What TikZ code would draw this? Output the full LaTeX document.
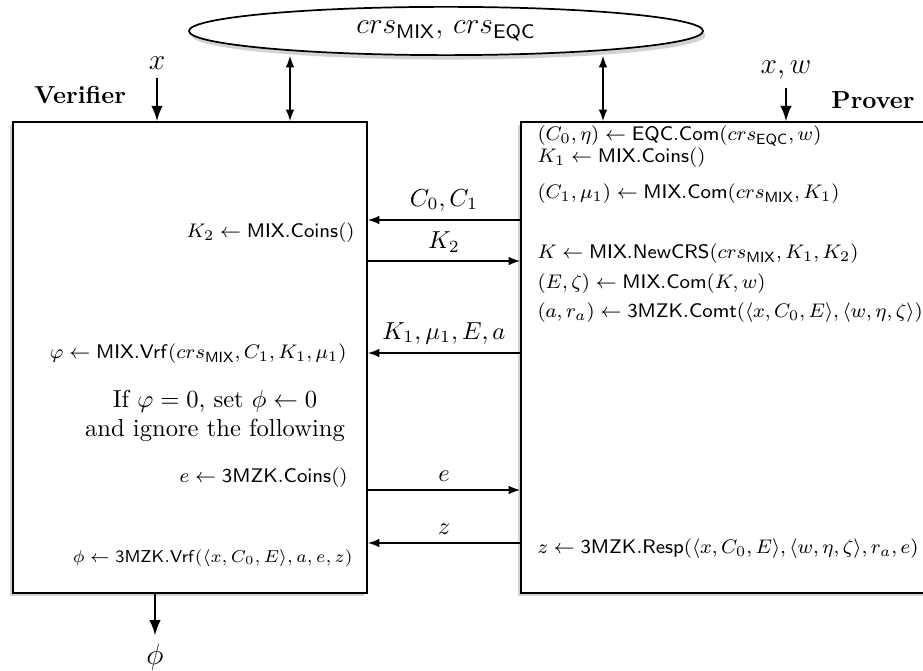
\documentclass[tikz,border=0pt]{standalone}
\usepackage{amsmath,amssymb}
\usetikzlibrary{arrows,shapes.geometric,shadows,positioning,math}
\newcommand{\MIX}{\mathsf{MIX}}
\newcommand{\EQC}{\mathsf{EQC}}
\newcommand{\MZK}{\mathsf{3MZK}}
\newcommand{\crsM}{crs_{\mathsf{MIX}}}
\newcommand{\crsE}{crs_{\mathsf{EQC}}}
\tikzset{
partybox/.style={draw, line width=0.8pt, fill=white, anchor=north west, inner sep=0pt,
  drop shadow={shadow xshift=-1.2pt, shadow yshift=-1.2pt, fill=gray!70}},
crsball/.style={ellipse, draw, line width=0.7pt, fill=white, inner sep=0pt,
  minimum width=7.35cm, minimum height=0.69cm,
  drop shadow={shadow xshift=1pt, shadow yshift=-1.8pt, fill=gray!70}},
stepL/.style={anchor=east, inner sep=0pt, font=\footnotesize},
stepR/.style={anchor=west, inner sep=0pt, font=\footnotesize},
msg/.style={line width=0.6pt},
inarrow/.style={-latex, line width=1.1pt},
crsarrow/.style={latex-latex, line width=0.6pt}
}
\begin{document}
\begin{tikzpicture}[x=0.0143cm,y=-0.0143cm]
\useasboundingbox (0,0) rectangle (923,671);
\clip (0,0) rectangle (923,671);

%common reference string
\node[crsball] (crs) at (446,31) {\large $\crsM,\,\crsE$};

%the two parties
\node[partybox, minimum width=5.062cm, minimum height=6.735cm] (ver) at (12,121) {};
\node[partybox, minimum width=5.93cm, minimum height=6.735cm] (prv) at (520,121) {};
\node[font=\bfseries] (vername) at (80,95) {Verifier};
\node[font=\bfseries] (prvname) at (873,100) {Prover};

%inputs and output
\node (xin) at (157,63) {\large $x$};
\node (xwin) at (786,70) {\large $x,w$};
\node (phiout) at (155,657) {\large $\phi$};
\draw[inarrow] (xin) -- (xin |- ver.north);
\draw[inarrow] (xwin) -- (xwin |- prv.north);
\draw[inarrow] (ver.south -| phiout) -- (phiout);

\coordinate (crsL) at (290,56);
\coordinate (crsR) at (603,56);
\draw[crsarrow] (crsL) -- (crsL |- ver.north);
\draw[crsarrow] (crsR) -- (crsR |- prv.north);

%prover steps
\node[stepR] (p1) at (537,136) {$(C_0,\eta)\leftarrow \EQC.\mathsf{Com}(\crsE,w)$};
\node[stepR] (p2) at (537,158) {$K_1\leftarrow \MIX.\mathsf{Coins}()$};
\node[stepR] (p3) at (537,194) {$(C_1,\mu_1)\leftarrow \MIX.\mathsf{Com}(\crsM,K_1)$};
\node[stepR] (p4) at (537,254) {$K\leftarrow \MIX.\mathsf{NewCRS}(\crsM,K_1,K_2)$};
\node[stepR] (p5) at (537,284) {$(E,\zeta)\leftarrow \MIX.\mathsf{Com}(K,w)$};
\node[stepR] (p6) at (537,313) {$(a,r_a)\leftarrow \MZK.\mathsf{Comt}(\langle x,C_0,E\rangle,\langle w,\eta,\zeta\rangle)$};
\node[stepR] (p7) at (537,549) {$z\leftarrow \MZK.\mathsf{Resp}(\langle x,C_0,E\rangle,\langle w,\eta,\zeta\rangle,r_a,e)$};

%verifier steps
\node[stepL] (v1) at (355,233) {$K_2\leftarrow \MIX.\mathsf{Coins}()$};
\node[stepL] (v2) at (347,354) {$\varphi\leftarrow \MIX.\mathsf{Vrf}(\crsM,C_1,K_1,\mu_1)$};
\node[align=center, inner sep=0pt] (v3) at (215,416) {If $\varphi=0$, set $\phi\leftarrow 0$\\ and ignore the following};
\node[stepL] (v4) at (348,478) {$e\leftarrow \MZK.\mathsf{Coins}()$};
\node[stepL, font=\scriptsize] (v5) at (353,558) {$\phi\leftarrow \MZK.\mathsf{Vrf}(\langle x,C_0,E\rangle,a,e,z)$};

%messages
\draw[msg,latex-] (ver.east |- 0,220) -- (prv.west |- 0,220) node[midway,above] {$C_0,C_1$};
\draw[msg,-latex] (ver.east |- 0,261) -- (prv.west |- 0,261) node[midway,above] {$K_2$};
\draw[msg,latex-] (ver.east |- 0,353) -- (prv.west |- 0,353) node[midway,above] {$K_1,\mu_1,E,a$};
\draw[msg,-latex] (ver.east |- 0,490) -- (prv.west |- 0,490) node[midway,above] {$e$};
\draw[msg,latex-] (ver.east |- 0,543) -- (prv.west |- 0,543) node[midway,above] {$z$};
\end{tikzpicture}
\end{document}
